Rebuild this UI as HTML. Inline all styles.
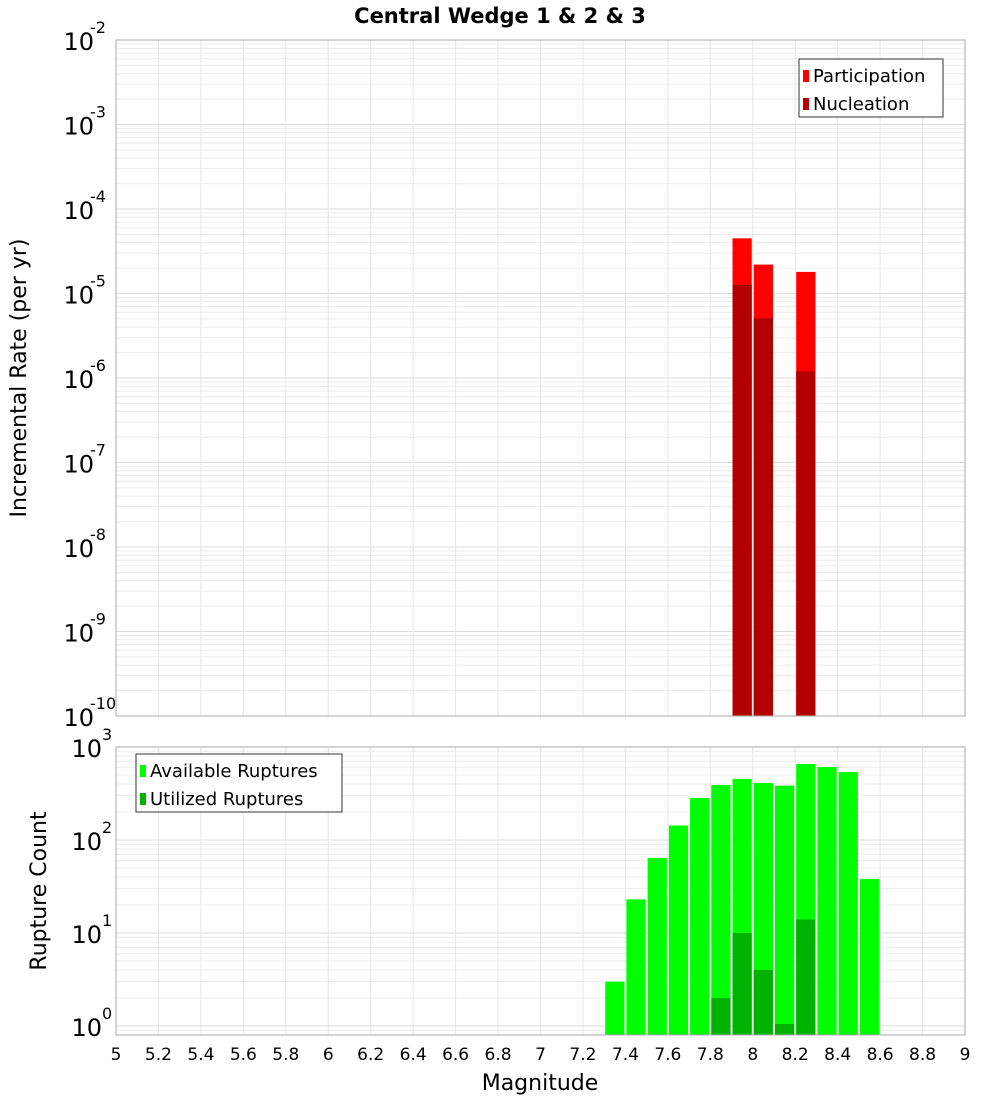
<!DOCTYPE html>
<html><head><meta charset="utf-8"><style>
body{margin:0;background:#fff;font-family:"Liberation Sans","DejaVu Sans",sans-serif}
svg text{font-family:"DejaVu Sans","Liberation Sans",sans-serif}
</style></head><body>
<svg id="c" width="1000" height="1100" xmlns="http://www.w3.org/2000/svg">
<text x="500" y="23" text-anchor="middle" font-size="21" font-weight="bold">Central Wedge 1 &amp; 2 &amp; 3</text>
<g id="topplot"></g>
<g id="botplot"></g>
<text transform="translate(26,378) rotate(-90)" text-anchor="middle" font-size="22">Incremental Rate (per yr)</text>
<text transform="translate(46,891) rotate(-90)" text-anchor="middle" font-size="22">Rupture Count</text>
<text x="540" y="1090" text-anchor="middle" font-size="22">Magnitude</text>
</svg>
<script>
const mags=[7.3,7.4,7.5,7.6,7.7,7.8,7.9,8.0,8.1,8.2,8.3,8.4,8.5];
const available=[3.0,23,64,143,283,390,453,410,384,656,609,538,38];
const utilizedMags=[7.8,7.9,8.0,8.1,8.2];
const utilized=[2.0,10,4.0,1.05,14];
const rateMags=[7.9,8.0,8.2];
const participation=[4.5e-5,2.2e-5,1.8e-5];
const nucleation=[1.26e-5,5.1e-6,1.2e-6];
const xTicks=[5,5.2,5.4,5.6,5.8,6,6.2,6.4,6.6,6.8,7,7.2,7.4,7.6,7.8,8,8.2,8.4,8.6,8.8,9];
const rateExps=[-10,-9,-8,-7,-6,-5,-4,-3,-2];
const countExps=[0,1,2,3];

const NS="http://www.w3.org/2000/svg";
const X0=116,X1=965;
const xs=m=>X0+(m-5)/4*(X1-X0);
function mk(p,t,a){const e=document.createElementNS(NS,t);for(const k in a)e.setAttribute(k,a[k]);p.appendChild(e);return e;}
function plot(g,y0,y1,lmin,lmax,exps,name){
  const ys=v=>y1-(Math.log10(v)-lmin)/(lmax-lmin)*(y1-y0);
  for(let d=Math.floor(lmin);d<lmax;d++){for(let k=1;k<10;k++){const v=k*Math.pow(10,d);const y=ys(v);if(y<y0||y>y1)continue;
    const l=mk(g,'line',{x1:X0,x2:X1,y1:y,y2:y,stroke:k==1?'#dcdcdc':'#ececec','stroke-width':1});
    
    }}
  xTicks.forEach(t=>{const l=mk(g,'line',{x1:xs(t),x2:xs(t),y1:y0,y2:y1,stroke:'#e6e6e6'});
    
    });
  exps.forEach(e=>{const y=ys(Math.pow(10,e));const t=mk(g,'text',{x:e<0?94:102,y:y+10,'text-anchor':'end','font-size':24});
    
    
    t.textContent='10';
    const s=mk(g,'text',{x:e<0?90:102,y:y-7,'font-size':16});
    
    
    s.textContent=String(e);});
  return ys;
}
const gTop=document.getElementById('topplot'),gBot=document.getElementById('botplot');
const ysT=plot(gTop,40,716,-10,-2,rateExps,'rate');
function bars(g,ms,vs,ys,base,col,name){ms.forEach((m,i)=>{const x=xs(m)+1,w=xs(m+0.1)-xs(m)-2;const y=ys(vs[i]);
  const r=mk(g,'rect',{x:x,y:y,width:w,height:base-y,fill:col});
  
  });}
bars(gTop,rateMags,participation,ysT,716,'#ff0000','participation-bar');
bars(gTop,rateMags,nucleation,ysT,716,'#b20000','nucleation-bar');
mk(gTop,'rect',{x:X0,y:40,width:X1-X0,height:676,fill:'none',stroke:'#aaa'});
const ysB=plot(gBot,747,1035,-0.097,3,countExps,'count');
bars(gBot,mags,available,ysB,1035,'#00ff00','available-bar');
bars(gBot,utilizedMags,utilized,ysB,1035,'#00b200','utilized-bar');
mk(gBot,'rect',{x:X0,y:747,width:X1-X0,height:288,fill:'none',stroke:'#aaa'});
xTicks.forEach(t=>{const e=mk(gBot,'text',{x:xs(t),y:1060,'text-anchor':'middle','font-size':17});
  
  
  e.textContent=String(t);});
function legend(g,x,y,w,items,name){const b=mk(g,'rect',{x:x,y:y,width:w,height:58,fill:'#fff',stroke:'#333'});
  
  
  items.forEach((it,i)=>{const r=mk(g,'rect',{x:x+4,y:y+11+i*28,width:6,height:12,fill:it[1]});
    
    
    const t=mk(g,'text',{x:x+14,y:y+23+i*28,'font-size':18});
    
    
    t.textContent=it[0];});}
legend(gTop,799,59,144,[['Participation','#ff0000'],['Nucleation','#b20000']],'rate-legend');
legend(gBot,136,754,206,[['Available Ruptures','#00ff00'],['Utilized Ruptures','#00b200']],'count-legend');
</script>
</body></html>
